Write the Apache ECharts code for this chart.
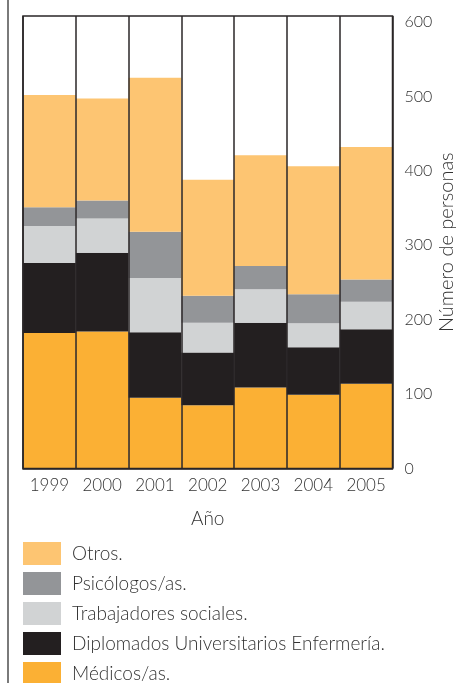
<!DOCTYPE html>
<html>
<head>
<meta charset="utf-8">
<script src="https://cdn.jsdelivr.net/npm/echarts@6/dist/echarts.min.js"></script>
<style>html,body{margin:0;padding:0;background:#fff;}#c{width:460px;height:683px;}</style>
</head>
<body>
<div id="c"></div>
<script>
var years = ['1999','2000','2001','2002','2003','2004','2005'];
var medicos = [182,184,95,85,109,99,114];
var enfermeria = [94,106,88,71,87,64,73];
var trabajadores = [50,46,73,40,45,32,37];
var psicologos = [25,24,62,36,31,39,30];
var otros = [151,137,207,156,149,172,178];
var yTicks = [0,100,200,300,400,500,600];

var FONT = 'Lato';
var chart = echarts.init(document.getElementById('c'));
function bar(name, data, color) {
  return { name: name, type: 'bar', stack: 't', data: data, barCategoryGap: 0,
    itemStyle: { color: color }, emphasis: { disabled: true } };
}
chart.setOption({
  animation: false,
  textStyle: { fontFamily: FONT },
  grid: { left: 23, right: 67.5, top: 16, bottom: 214.5, show: true, z: 5,
    containLabel: false, outerBoundsMode: 'none',
    borderColor: '#2a2627', borderWidth: 1.5, backgroundColor: 'transparent' },
  legend: {
    orient: 'vertical', left: 23, top: 542, height: 200, padding: 0,
    itemWidth: 38, itemHeight: 23, itemGap: 7,
    icon: 'rect', selectedMode: false,
    textStyle: { fontFamily: FONT, fontWeight: 300, fontSize: 19, color: '#333', padding: [0, 0, 0, 6] },
    data: ['Otros.', 'Psicólogos/as.', 'Trabajadores sociales.', 'Diplomados Universitarios Enfermería.', 'Médicos/as.']
  },
  xAxis: {
    type: 'category', data: years, z: 5,
    name: 'Año', nameLocation: 'middle', nameGap: 41, nameMoveOverlap: false,
    nameTextStyle: { fontFamily: FONT, fontWeight: 300, fontSize: 19, color: '#333' },
    axisLine: { show: true, lineStyle: { color: '#2a2627', width: 1.5 } },
    axisTick: { show: false },
    splitLine: { show: true, interval: 0, lineStyle: { color: '#2a2627', width: 1.5 } },
    axisLabel: { interval: 0, margin: 9, fontFamily: FONT, fontWeight: 300, fontSize: 17, color: '#333' }
  },
  yAxis: {
    type: 'value', position: 'right', min: 0, max: 608, interval: 100,
    name: 'Número de personas', nameLocation: 'middle', nameGap: 44, nameMoveOverlap: false,
    nameTextStyle: { fontFamily: FONT, fontWeight: 300, fontSize: 20, color: '#333' },
    axisLine: { show: false }, axisTick: { show: false }, splitLine: { show: false },
    axisLabel: { margin: 12, fontFamily: FONT, fontWeight: 300, fontSize: 16, color: '#333',
      formatter: function (v) { return yTicks.indexOf(v) >= 0 ? String(v) : ''; } }
  },
  graphic: [{ type: 'line', shape: { x1: 8, y1: 0, x2: 8, y2: 683 },
    style: { stroke: '#7a7a7a', lineWidth: 2 } }],
  series: [
    bar('Médicos/as.', medicos, '#FBB034'),
    bar('Diplomados Universitarios Enfermería.', enfermeria, '#231F20'),
    bar('Trabajadores sociales.', trabajadores, '#D1D3D4'),
    bar('Psicólogos/as.', psicologos, '#939598'),
    bar('Otros.', otros, '#FDC572')
  ]
});
</script>
</body>
</html>
